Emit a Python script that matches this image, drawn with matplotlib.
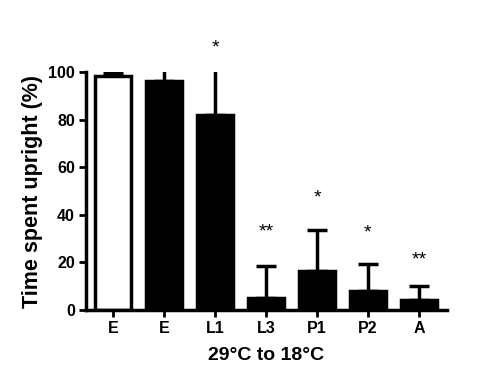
import numpy as np
import matplotlib.pyplot as plt

plt.rcParams['font.family'] = ['Liberation Sans', 'DejaVu Sans']

# data
labels = ['E', 'E', 'L1', 'L3', 'P1', 'P2', 'A']
means = [98.5, 96.5, 82.0, 5.0, 16.3, 8.0, 4.2]
upper = [99.5, 102.0, 104.0, 18.6, 33.6, 19.2, 10.1]
stars = ['', '', '*', '**', '*', '*', '**']
star_y = [0, 0, 110, 33, 47, 32.5, 21]
colors = ['white', 'black', 'black', 'black', 'black', 'black', 'black']

errs = [u - m for u, m in zip(upper, means)]
x = np.arange(len(labels))

fig = plt.figure(figsize=(5, 3.86), dpi=100)
ax = fig.add_axes([0.172, 0.197, 0.722, 0.616])

ax.bar(x, means, width=0.69, color=colors, edgecolor='black', linewidth=2.5, zorder=2)
ax.errorbar(x, means, yerr=[np.zeros(len(x)), errs], fmt='none', ecolor='black',
            elinewidth=2.5, capsize=7, capthick=2.5, zorder=1)

for xi, s, sy in zip(x, stars, star_y):
    if s:
        ax.text(xi, sy, s, ha='center', va='center', fontsize=14, clip_on=False)

ax.set_xlim(-0.53, 6.55)
ax.set_ylim(0, 100)
ax.set_yticks([0, 20, 40, 60, 80, 100])
ax.set_xticks(x)
ax.set_xticklabels(labels)

for side in ['top', 'right']:
    ax.spines[side].set_visible(False)
for side in ['left', 'bottom']:
    ax.spines[side].set_linewidth(2.5)

ax.tick_params(width=2, length=5, labelsize=11.5, pad=3)
for lab in ax.get_xticklabels() + ax.get_yticklabels():
    lab.set_fontweight('bold')

ax.set_ylabel('Time spent upright (%)', fontsize=15.5, fontweight='bold', labelpad=4)
ax.set_xlabel('29°C to 18°C', fontsize=14, fontweight='bold', labelpad=8)

fig.savefig('out.png', dpi=100)
